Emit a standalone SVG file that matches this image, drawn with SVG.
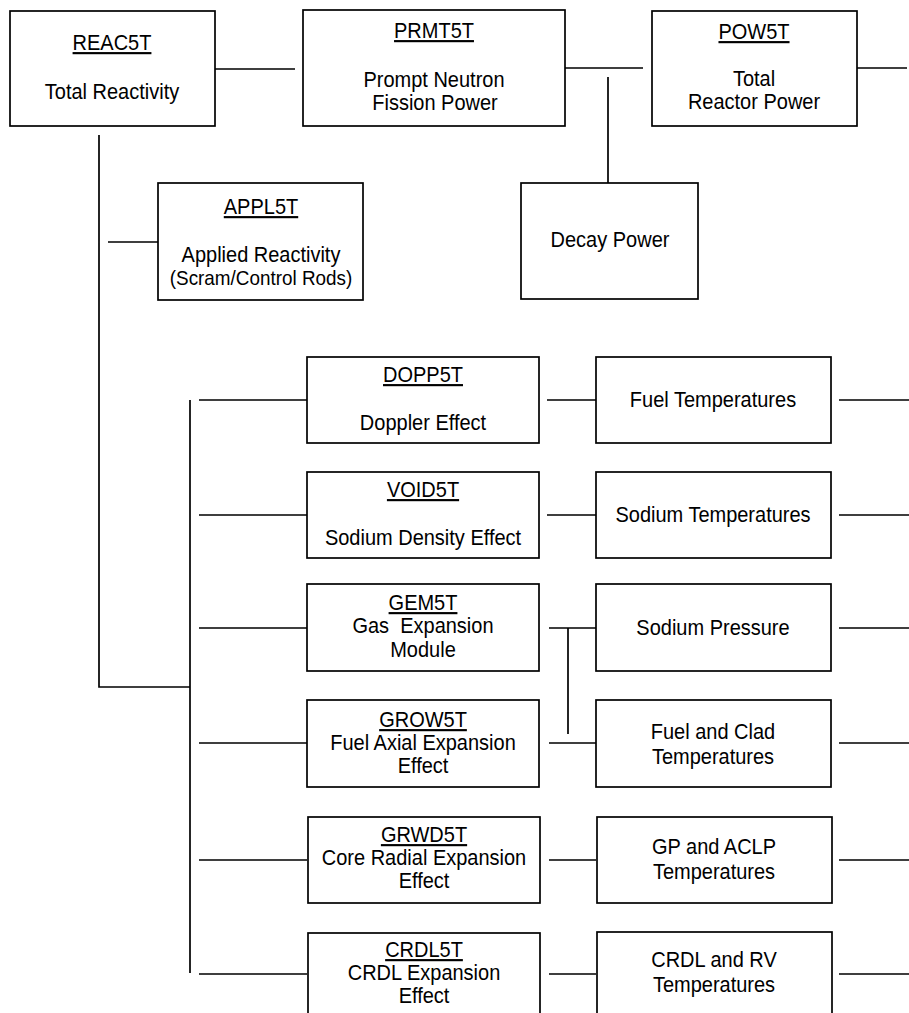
<svg xmlns="http://www.w3.org/2000/svg" width="909" height="1013" viewBox="0 0 909 1013">
<style>
.box{fill:#fff;stroke:#000;stroke-width:1.7}
.ln{fill:none;stroke:#000;stroke-width:1.7}
text{font-family:"Liberation Sans",Arial,sans-serif;font-size:21.5px;fill:#000;text-anchor:middle}
.u{text-decoration:underline}
.s{font-size:20.3px}
</style>
<rect width="909" height="1013" fill="#fff"/>
<g id="connectors">
<path class="ln" d="M215 69H295M565 68H643M857 68H907M608 77V183"/>
<path class="ln" d="M99 135V687H190M190 400V973M108 242H158"/>
<path class="ln" d="M199 400H307M199 515H307M199 628H307M199 743H307M199 860H307M199 974H307"/>
<path class="ln" d="M547 400H596M547 515H596M549 628H596M549 743H596M549 860H596M549 974H596M568 628V734"/>
<path class="ln" d="M839 400H909M839 515H909M839 628H909M839 743H909M839 860H909M839 974H909"/>
</g>
<g id="REAC5T"><rect class="box" x="10" y="11" width="205" height="115"/><text class="u" transform="translate(112 0) scale(.93 1)" y="50">REAC5T</text><text transform="translate(112 0) scale(.93 1)" y="99">Total Reactivity</text></g>
<g id="PRMT5T"><rect class="box" x="303" y="10" width="262" height="116"/><text class="u" transform="translate(434 0) scale(.93 1)" y="38">PRMT5T</text><text transform="translate(434 0) scale(.93 1)" y="87">Prompt Neutron</text><text transform="translate(435 0) scale(.93 1)" y="110">Fission Power</text></g>
<g id="POW5T"><rect class="box" x="652" y="11" width="205" height="115"/><text class="u" transform="translate(754 0) scale(.93 1)" y="39">POW5T</text><text transform="translate(754 0) scale(.93 1)" y="86">Total</text><text transform="translate(754 0) scale(.93 1)" y="109">Reactor Power</text></g>
<g id="APPL5T"><rect class="box" x="158" y="183" width="205" height="117"/><text class="u" transform="translate(261 0) scale(.93 1)" y="214">APPL5T</text><text transform="translate(261 0) scale(.93 1)" y="262">Applied Reactivity</text><text class="s" transform="translate(261 0) scale(.93 1)" y="285">(Scram/Control Rods)</text></g>
<g id="DECAY"><rect class="box" x="521" y="183" width="177" height="116"/><text transform="translate(610 0) scale(.93 1)" y="247">Decay Power</text></g>
<g id="DOPP5T"><rect class="box" x="307" y="357" width="232" height="86"/><text class="u" transform="translate(423 0) scale(.93 1)" y="382">DOPP5T</text><text transform="translate(423 0) scale(.93 1)" y="430">Doppler Effect</text></g>
<g id="VOID5T"><rect class="box" x="307" y="472" width="232" height="86"/><text class="u" transform="translate(423 0) scale(.93 1)" y="497">VOID5T</text><text transform="translate(423 0) scale(.93 1)" y="545">Sodium Density Effect</text></g>
<g id="GEM5T"><rect class="box" x="307" y="584" width="232" height="87"/><text class="u" transform="translate(423 0) scale(.93 1)" y="610">GEM5T</text><text transform="translate(423 0) scale(.93 1)" y="633" style="white-space:pre">Gas  Expansion</text><text transform="translate(423 0) scale(.93 1)" y="657">Module</text></g>
<g id="GROW5T"><rect class="box" x="307" y="700" width="232" height="87"/><text class="u" transform="translate(423 0) scale(.93 1)" y="727">GROW5T</text><text transform="translate(423 0) scale(.93 1)" y="750">Fuel Axial Expansion</text><text transform="translate(423 0) scale(.93 1)" y="773">Effect</text></g>
<g id="GRWD5T"><rect class="box" x="308" y="817" width="232" height="86"/><text class="u" transform="translate(424 0) scale(.93 1)" y="842">GRWD5T</text><text transform="translate(424 0) scale(.93 1)" y="865">Core Radial Expansion</text><text transform="translate(424 0) scale(.93 1)" y="888">Effect</text></g>
<g id="CRDL5T"><rect class="box" x="308" y="933" width="232" height="86"/><text class="u" transform="translate(424 0) scale(.93 1)" y="957">CRDL5T</text><text transform="translate(424 0) scale(.93 1)" y="980">CRDL Expansion</text><text transform="translate(424 0) scale(.93 1)" y="1003">Effect</text></g>
<g id="FUELT"><rect class="box" x="596" y="357" width="235" height="86"/><text transform="translate(713 0) scale(.93 1)" y="407">Fuel Temperatures</text></g>
<g id="SODT"><rect class="box" x="596" y="472" width="235" height="86"/><text transform="translate(713 0) scale(.93 1)" y="522">Sodium Temperatures</text></g>
<g id="SODP"><rect class="box" x="596" y="584" width="235" height="87"/><text transform="translate(713 0) scale(.93 1)" y="635">Sodium Pressure</text></g>
<g id="FCT"><rect class="box" x="596" y="700" width="235" height="87"/><text transform="translate(713 0) scale(.93 1)" y="739">Fuel and Clad</text><text transform="translate(713 0) scale(.93 1)" y="764">Temperatures</text></g>
<g id="GPT"><rect class="box" x="597" y="817" width="235" height="86"/><text transform="translate(714 0) scale(.93 1)" y="854">GP and ACLP</text><text transform="translate(714 0) scale(.93 1)" y="879">Temperatures</text></g>
<g id="CRDLT"><rect class="box" x="597" y="932" width="235" height="87"/><text transform="translate(714 0) scale(.93 1)" y="967">CRDL and RV</text><text transform="translate(714 0) scale(.93 1)" y="992">Temperatures</text></g>
</svg>
